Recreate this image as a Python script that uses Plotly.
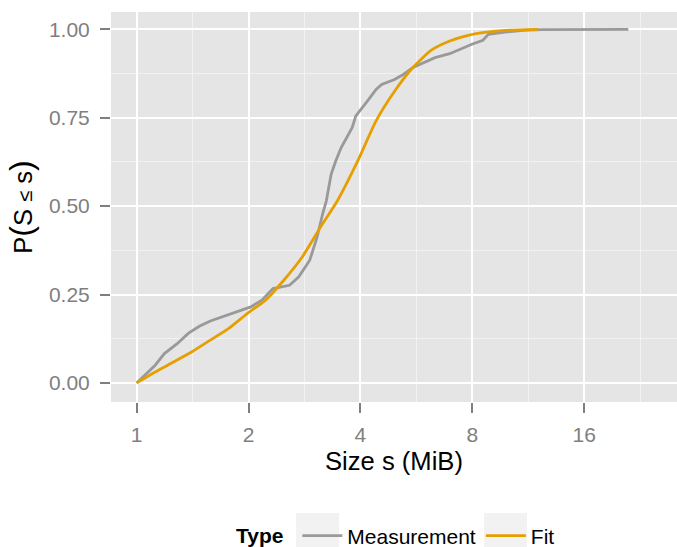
import plotly.graph_objects as go

# Measurement ECDF (size in MiB, cumulative probability)
meas_s = [1.000, 1.121, 1.187, 1.285, 1.376, 1.474, 1.578, 1.729, 1.895, 2.028,
          2.172, 2.326, 2.578, 2.730, 2.922, 3.059, 3.167, 3.238, 3.336, 3.430,
          3.548, 3.673, 3.800, 3.888, 4.022, 4.210, 4.407, 4.563, 4.942, 5.231,
          5.537, 5.930, 6.351, 6.955, 7.362, 7.978, 8.544, 8.839, 9.795, 10.98,
          12.30, 21.04]
meas_p = [0.000, 0.050, 0.083, 0.111, 0.140, 0.160, 0.175, 0.190, 0.206, 0.215,
          0.234, 0.267, 0.276, 0.300, 0.347, 0.413, 0.479, 0.515, 0.590, 0.627,
          0.665, 0.693, 0.722, 0.755, 0.774, 0.802, 0.830, 0.844, 0.858, 0.873,
          0.892, 0.906, 0.920, 0.931, 0.943, 0.958, 0.969, 0.986, 0.992, 0.997,
          0.999, 1.000]

# Fitted CDF
fit_s = [1.000, 1.121, 1.256, 1.408, 1.578, 1.769, 1.983, 2.222, 2.491, 2.792,
         3.129, 3.468, 3.931, 4.407, 4.942, 5.537, 6.207, 6.955, 7.797, 8.741,
         9.795, 12.03]
fit_p = [0.000, 0.031, 0.059, 0.088, 0.121, 0.154, 0.196, 0.234, 0.291, 0.357,
         0.442, 0.515, 0.627, 0.741, 0.825, 0.892, 0.941, 0.967, 0.983, 0.992,
         0.997, 1.000]

series_names = ["Measurement", "Fit"]
series_colors = ["#999999", "#E69F00"]

x_ticks = [1, 2, 4, 8, 16]
x_minor = [1.414, 2.828, 5.657, 11.31, 22.63]
y_ticks = [0.0, 0.25, 0.5, 0.75, 1.0]
y_tick_labels = ["0.00", "0.25", "0.50", "0.75", "1.00"]
y_minor = [0.125, 0.375, 0.625, 0.875]

FONT = "Liberation Sans, Arial, Helvetica, sans-serif"
TICK_COLOR = "#7F7F7F"
NB = "\u00a0"

fig = go.Figure()
fig.add_trace(go.Scatter(x=meas_s, y=meas_p, mode="lines", name=series_names[0],
                         line=dict(color=series_colors[0], width=2.8)))
fig.add_trace(go.Scatter(x=fit_s, y=fit_p, mode="lines", name=series_names[1],
                         line=dict(color=series_colors[1], width=2.8, shape="spline", smoothing=0.6)))

# legend key backgrounds (ggplot-style grey95 key boxes)
W, PL, PT, PH = 566.0, 111.0, 12.0, 390.0
def px_x(p):
    return (p - PL) / W
def px_y(p):
    return (PT + PH - p) / PH
shapes = []
for x0, x1 in [(296, 339), (484, 527)]:
    shapes.append(dict(type="rect", xref="paper", yref="paper",
                       x0=px_x(x0), x1=px_x(x1), y0=px_y(557), y1=px_y(513),
                       fillcolor="#F2F2F2", line=dict(width=0), layer="below"))

y_title = ("P<span style='font-size:32px'>(</span>S "
           "<span style='font-size:20px'>≤</span> s"
           "<span style='font-size:32px'>)</span>")

fig.update_layout(
    width=677, height=547,
    margin=dict(l=111, r=0, t=12, b=145, autoexpand=False),
    paper_bgcolor="white",
    plot_bgcolor="#E5E5E5",
    font=dict(family=FONT, size=21, color="black"),
    showlegend=True,
    shapes=shapes,
    legend=dict(
        orientation="h",
        x=px_x(234), xanchor="left",
        y=px_y(536), yanchor="middle",
        title=dict(text="<b>Type</b>" + NB, font=dict(size=21, color="black"), side="left"),
        font=dict(size=21, color="black"),
        bgcolor="rgba(0,0,0,0)",
        itemwidth=40,
    ),
    xaxis=dict(
        type="log",
        range=[-0.0692, 1.454],
        tickvals=x_ticks,
        ticktext=[str(v) for v in x_ticks],
        showgrid=True, gridcolor="white", gridwidth=2,
        minor=dict(tickvals=x_minor, showgrid=True, gridcolor="#F2F2F2", gridwidth=1, ticks=""),
        ticks="outside", ticklen=10, tickwidth=2, tickcolor=TICK_COLOR,
        tickfont=dict(size=21, color=TICK_COLOR),
        ticklabelstandoff=4,
        zeroline=False, showline=False, automargin=False,
        title=dict(text="Size s (MiB)", font=dict(size=25.6, color="black"), standoff=6),
    ),
    yaxis=dict(
        range=[-0.054, 1.049],
        tickvals=y_ticks,
        ticktext=y_tick_labels,
        showgrid=True, gridcolor="white", gridwidth=2,
        minor=dict(tickvals=y_minor, showgrid=True, gridcolor="#F2F2F2", gridwidth=1, ticks=""),
        ticks="outside", ticklen=10, tickwidth=2, tickcolor=TICK_COLOR,
        tickfont=dict(size=21, color=TICK_COLOR),
        ticklabelstandoff=6,
        zeroline=False, showline=False, automargin=False,
        title=dict(text=y_title, font=dict(size=25.6, color="black"), standoff=8),
    ),
)

fig.write_html("out.html")
